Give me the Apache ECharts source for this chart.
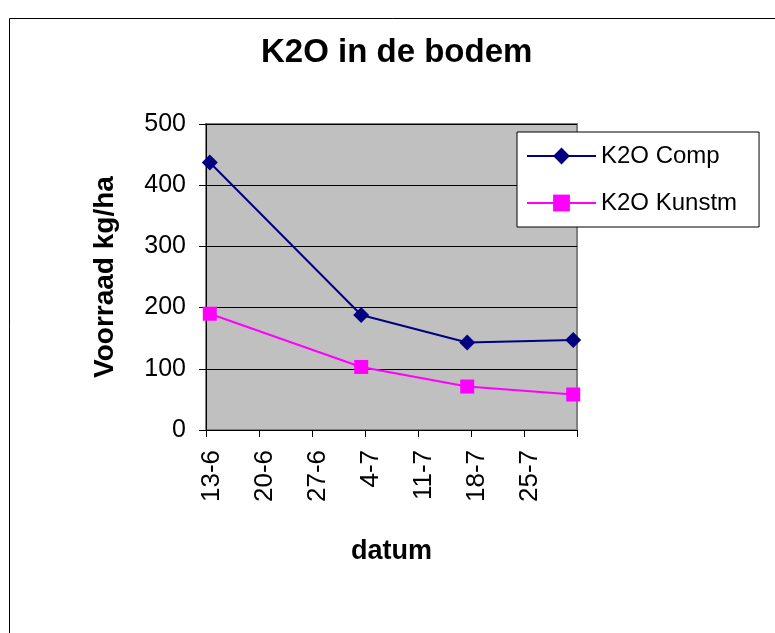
<!DOCTYPE html>
<html>
<head>
<meta charset="utf-8">
<script src="https://cdn.jsdelivr.net/npm/echarts@6/dist/echarts.min.js"></script>
<style>
  html, body { margin: 0; padding: 0; background: #fff; }
  #chart { width: 775px; height: 633px; }
</style>
</head>
<body>
<div id="chart"></div>
<script>
// meetdata
const startDate = '2007-06-13'
const sampleDates = ['2007-06-13', '2007-07-03', '2007-07-17', '2007-07-31']
const k2oComp = [437, 188, 143, 147]
const k2oKunstm = [190, 103, 71, 58]
// as-labels (weekly)
const tickLabels = ['13-6', '20-6', '27-6', '4-7', '11-7', '18-7', '25-7']

const FONT = 'Liberation Sans, Arial, sans-serif'
const DAY = 24 * 3600 * 1000

// dag-index vanaf start, punt in het midden van de dag (zoals Excel)
const toDay = (d) => (Date.parse(d) - Date.parse(startDate)) / DAY + 0.5
const pairs = (vals) => vals.map((v, i) => [toDay(sampleDates[i]), v])

const chart = echarts.init(document.getElementById('chart'))

chart.setOption({
  animation: false,
  backgroundColor: '#fff',
  textStyle: { fontFamily: FONT },
  graphic: [{
    type: 'rect',
    left: 7,
    top: 16,
    shape: { width: 800, height: 700 },
    style: { fill: 'none', stroke: '#000', lineWidth: 1 },
    silent: true
  }],
  title: {
    text: 'K2O in de bodem',
    left: 261,
    top: 36,
    padding: 0,
    textStyle: { fontFamily: FONT, fontSize: 33, fontWeight: 'bold', color: '#000' }
  },
  legend: {
    orient: 'vertical',
    left: 517,
    top: 132,
    padding: [12, 22, 12, 9],
    itemGap: 23,
    itemWidth: 69,
    itemHeight: 21,
    backgroundColor: '#fff',
    borderColor: '#000',
    borderWidth: 1,
    borderRadius: 0,
    textStyle: { fontFamily: FONT, fontSize: 24, color: '#000' },
    data: ['K2O Comp', 'K2O Kunstm']
  },
  grid: {
    left: 206,
    right: 198,
    top: 124,
    bottom: 203,
    show: true,
    backgroundColor: '#c0c0c0',
    borderColor: '#808080',
    borderWidth: 2
  },
  xAxis: {
    type: 'value',
    min: 0,
    max: 49,
    interval: 7,
    name: 'datum',
    nameLocation: 'middle',
    nameGap: 108,
    nameTextStyle: { fontFamily: FONT, fontSize: 27, fontWeight: 'bold', color: '#000' },
    axisLine: { show: true, onZero: false, lineStyle: { color: '#000', width: 1 } },
    axisTick: { show: true, length: 7, lineStyle: { color: '#000' } },
    splitLine: { show: false },
    axisLabel: {
      rotate: 90,
      margin: 20,
      fontFamily: FONT,
      fontSize: 26,
      color: '#000',
      formatter: (v) => {
        const t = tickLabels[Math.round(v / 7)]
        return t ? '{t|' + t + '}' : ''
      },
      rich: {
        t: { fontFamily: FONT, fontSize: 26, color: '#000', padding: [12, 0, 0, 0] }
      }
    }
  },
  yAxis: {
    type: 'value',
    min: 0,
    max: 500,
    interval: 100,
    name: 'Voorraad kg/ha',
    nameLocation: 'middle',
    nameGap: 87,
    nameTextStyle: { fontFamily: FONT, fontSize: 28, fontWeight: 'bold', color: '#000' },
    axisLine: { show: true, lineStyle: { color: '#000', width: 1 } },
    axisTick: { show: true, length: 7, lineStyle: { color: '#000' } },
    splitLine: { show: true, lineStyle: { color: '#000', width: 1 } },
    axisLabel: { margin: 20, fontFamily: FONT, fontSize: 25, color: '#000' }
  },
  series: [
    {
      name: 'K2O Comp',
      type: 'line',
      data: pairs(k2oComp),
      color: '#000080',
      symbol: 'diamond',
      symbolSize: 16,
      lineStyle: { width: 2, color: '#000080' },
      itemStyle: { color: '#000080' },
      emphasis: { disabled: true }
    },
    {
      name: 'K2O Kunstm',
      type: 'line',
      data: pairs(k2oKunstm),
      color: '#ff00ff',
      symbol: 'rect',
      symbolSize: 14,
      lineStyle: { width: 2, color: '#ff00ff' },
      itemStyle: { color: '#ff00ff' },
      emphasis: { disabled: true }
    }
  ]
})
</script>
</body>
</html>
